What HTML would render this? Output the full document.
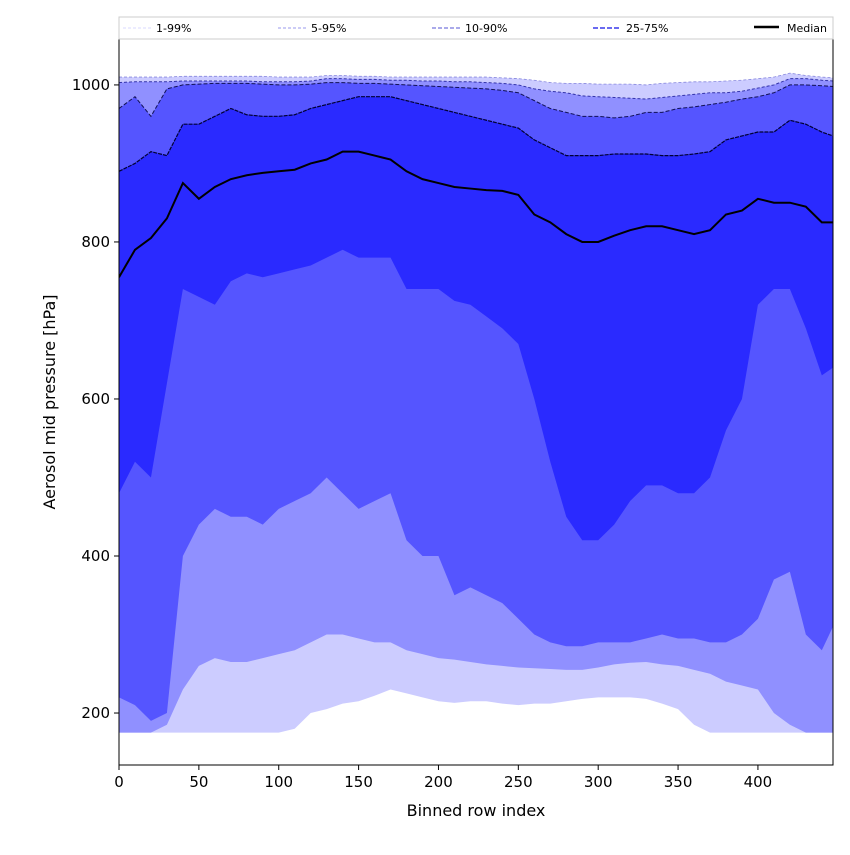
<!DOCTYPE html>
<html><head><meta charset="utf-8"><style>
body{margin:0;background:#fff}
svg text{font-family:"DejaVu Sans","Liberation Sans",sans-serif}
</style></head><body>
<svg id="c" width="850" height="850" xmlns="http://www.w3.org/2000/svg"></svg>
<script>
const xs=[0,10,20,30,40,50,60,70,80,90,100,110,120,130,140,150,160,170,180,190,200,210,220,230,240,250,260,270,280,290,300,310,320,330,340,350,360,370,380,390,400,410,420,430,440,447];
const p99=[1010,1010,1010,1010,1011,1011,1011,1011,1011,1011,1010,1010,1010,1012,1012,1011,1011,1010,1010,1010,1010,1010,1010,1010,1009,1008,1006,1003,1002,1002,1001,1001,1001,1000,1002,1003,1004,1004,1005,1006,1008,1010,1015,1012,1010,1009];
const p95=[1003,1004,1004,1004,1005,1005,1005,1005,1005,1004,1004,1004,1005,1008,1008,1007,1007,1006,1006,1005,1005,1004,1004,1003,1002,1000,995,992,990,986,985,984,983,982,984,986,988,990,990,992,996,1000,1008,1008,1006,1005];
const p90=[970,985,960,995,1000,1001,1002,1002,1002,1001,1000,1000,1001,1003,1003,1002,1002,1001,1000,999,998,997,996,995,993,990,980,970,965,960,960,958,960,965,965,970,972,975,978,982,985,990,1000,1000,999,998];
const p75=[890,900,915,910,950,950,960,970,962,960,960,962,970,975,980,985,985,985,980,975,970,965,960,955,950,945,930,920,910,910,910,912,912,912,910,910,912,915,930,935,940,940,955,950,940,935];
const p50=[755,790,805,830,875,855,870,880,885,888,890,892,900,905,915,915,910,905,890,880,875,870,868,866,865,860,835,825,810,800,800,808,815,820,820,815,810,815,835,840,855,850,850,845,825,825];
const p25=[480,520,500,620,740,730,720,750,760,755,760,765,770,780,790,780,780,780,740,740,740,725,720,705,690,670,600,520,450,420,420,440,470,490,490,480,480,500,560,600,720,740,740,690,630,640];
const p10=[220,210,190,200,400,440,460,450,450,440,460,470,480,500,480,460,470,480,420,400,400,350,360,350,340,320,300,290,285,285,290,290,290,295,300,295,295,290,290,300,320,370,380,300,280,310];
const p5=[175,175,175,185,230,260,270,265,265,270,275,280,290,300,300,295,290,290,280,275,270,268,265,262,260,258,257,256,255,255,258,262,264,265,262,260,255,250,240,235,230,200,185,175,175,175];
const p1=[175,175,175,175,175,175,175,175,175,175,175,180,200,205,212,215,222,230,225,220,215,213,215,215,212,210,212,212,215,218,220,220,220,218,212,205,185,175,175,175,175,175,175,175,175,175];
const xTicks=[0,50,100,150,200,250,300,350,400];
const yTicks=[200,400,600,800,1000];
const L=119,R=833,T=39,B=765,X0=0,X1=447,Y0=133.8,Y1=1058.5;
const sx=v=>L+(v-X0)/(X1-X0)*(R-L);
const sy=v=>B-(v-Y0)/(Y1-Y0)*(B-T);
const svg=document.getElementById('c');
const NS='http://www.w3.org/2000/svg';
function mk(t,a,p){const e=document.createElementNS(NS,t);for(const k in a)e.setAttribute(k,a[k]);(p||svg).appendChild(e);return e;}
const clip=mk('clipPath',{id:'cl'});mk('rect',{x:L,y:T,width:R-L,height:B-T},clip);
const g=mk('g',{'clip-path':'url(#cl)'});
function band(lo,hi,col,name){
  let d='M'+xs.map((x,i)=>sx(x)+','+sy(hi[i])).join('L');
  for(let i=xs.length-1;i>=0;i--)d+='L'+sx(xs[i])+','+sy(lo[i]);
  const e=mk('path',{d:d+'Z',fill:col},g);
  
  
}
function line(arr,col,w,dash,name){
  const e=mk('path',{d:'M'+xs.map((x,i)=>sx(x)+','+sy(arr[i])).join('L'),fill:'none',stroke:col,'stroke-width':w,'stroke-dasharray':dash||'none'},g);
  
  
}
band(p1,p99,'#ccccff','band-1-99');
band(p5,p95,'#9090ff','band-5-95');
band(p10,p90,'#5555ff','band-10-90');
band(p25,p75,'#2a2aff','band-25-75');
line(p99,'#8888dd',0.8,'3,2','line-p99');
line(p95,'#3333aa',1,'3,2','line-p95');
line(p90,'#111155',1,'4,2','line-p90');
line(p75,'#000033',1.2,'4,1','line-p75');
line(p50,'#000',2,'none','median-line');
mk('rect',{x:L,y:T,width:R-L,height:B-T,fill:'none',stroke:'#000','stroke-width':1});
xTicks.forEach(t=>{const x=sx(t);mk('line',{x1:x,x2:x,y1:B,y2:B+5,stroke:'#000'});
 const e=mk('text',{x:x,y:B+22,'text-anchor':'middle','font-size':15});e.textContent=t;
 });
yTicks.forEach(t=>{const y=sy(t);mk('line',{x1:L-5,x2:L,y1:y,y2:y,stroke:'#000'});
 const e=mk('text',{x:L-9,y:y+5,'text-anchor':'end','font-size':15});e.textContent=t;
 });
let e=mk('text',{x:(L+R)/2,y:816,'text-anchor':'middle','font-size':16});e.textContent='Binned row index';

e=mk('text',{x:55,y:(T+B)/2,'text-anchor':'middle','font-size':16,transform:'rotate(-90 55 '+((T+B)/2)+')'});e.textContent='Aerosol mid pressure [hPa]';

const lg=mk('g',{});
mk('rect',{x:119,y:17,width:714,height:22,fill:'#fff',stroke:'#ccc'},lg);
const ents=[['1-99%','#ccccff',0.8,'3,2',123],['5-95%','#9999ee',1,'3,2',278],['10-90%','#7777dd',1.2,'4,2',432],['25-75%','#5555ee',1.8,'5,2',593]];
ents.forEach(en=>{mk('line',{x1:en[4],x2:en[4]+28,y1:28,y2:28,stroke:en[1],'stroke-width':en[2],'stroke-dasharray':en[3]},lg);
 const t=mk('text',{x:en[4]+33,y:32,'font-size':11},lg);t.textContent=en[0];
 });
mk('line',{x1:754,x2:779,y1:27,y2:27,stroke:'#000','stroke-width':2.5},lg);
const mt=mk('text',{x:787,y:32,'font-size':11},lg);mt.textContent='Median';

</script>
</body></html>
